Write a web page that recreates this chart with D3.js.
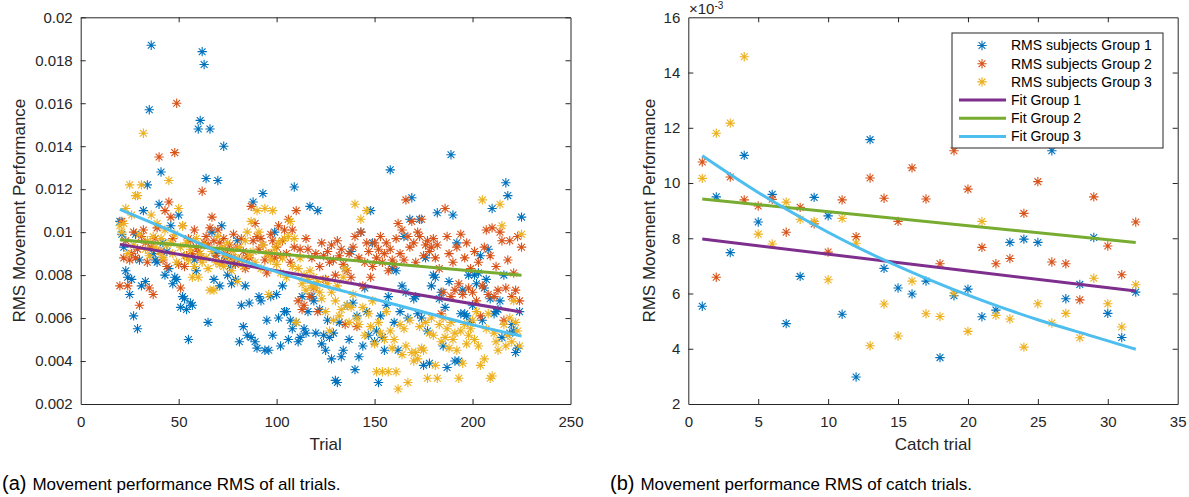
<!DOCTYPE html>
<html>
<head>
<meta charset="utf-8">
<script src="https://cdn.jsdelivr.net/npm/d3@7"></script>
<style>
  html, body { margin: 0; padding: 0; background: #fff; }
  svg { display: block; font-family: "Liberation Sans", Arial, sans-serif; }
</style>
</head>
<body>
<svg id="svg" width="1189" height="497"></svg>
<script>
// ---- data: all trials (panel a) ----
const trials = d3.range(20, 226);

const allGroup1 = [
  0.0105, 0.0099, 0.0093, 0.0082, 0.0079, 0.0071, 0.0078, 0.0061, 0.0099, 0.0055,
  0.0087, 0.0075, 0.0110, 0.0077, 0.0122, 0.0157, 0.0187, 0.0090, 0.0087, 0.0086,
  0.0113, 0.0128, 0.0095, 0.0080, 0.0091, 0.0083, 0.0103, 0.0076, 0.0079, 0.0078,
  0.0108, 0.0065, 0.0070, 0.0069, 0.0064, 0.0050, 0.0067, 0.0066, 0.0087, 0.0082,
  0.0148, 0.0152, 0.0184, 0.0178, 0.0125, 0.0058, 0.0148, 0.0100, 0.0078, 0.0090,
  0.0124, 0.0075, 0.0103, 0.0140, 0.0088, 0.0080, 0.0084, 0.0076, 0.0086, 0.0078,
  0.0096, 0.0049, 0.0066, 0.0056, 0.0075, 0.0052, 0.0067, 0.0051, 0.0114, 0.0049,
  0.0046, 0.0070, 0.0068, 0.0118, 0.0045, 0.0059, 0.0045, 0.0070, 0.0052, 0.0100,
  0.0071, 0.0060, 0.0047, 0.0075, 0.0063, 0.0063, 0.0050, 0.0059, 0.0055, 0.0121,
  0.0058, 0.0049, 0.0051, 0.0070, 0.0055, 0.0053, 0.0063, 0.0112, 0.0070, 0.0068,
  0.0053, 0.0110, 0.0064, 0.0048, 0.0052, 0.0045, 0.0059, 0.0051, 0.0041, 0.0053,
  0.0031, 0.0030, 0.0058, 0.0042, 0.0045, 0.0083, 0.0066, 0.0050, 0.0091, 0.0067,
  0.0036, 0.0061, 0.0042, 0.0100, 0.0047, 0.0074, 0.0063, 0.0052, 0.0110, 0.0095,
  0.0049, 0.0054, 0.0030, 0.0061, 0.0051, 0.0045, 0.0066, 0.0070, 0.0129, 0.0083,
  0.0058, 0.0082, 0.0045, 0.0063, 0.0075, 0.0098, 0.0072, 0.0060, 0.0106, 0.0116,
  0.0069, 0.0070, 0.0062, 0.0106, 0.0060, 0.0038, 0.0088, 0.0054, 0.0039, 0.0075,
  0.0080, 0.0079, 0.0109, 0.0069, 0.0072, 0.0047, 0.0065, 0.0037, 0.0077, 0.0136,
  0.0108, 0.0040, 0.0095, 0.0040, 0.0062, 0.0073, 0.0062, 0.0061, 0.0080, 0.0058,
  0.0066, 0.0080, 0.0076, 0.0081, 0.0089, 0.0059, 0.0074, 0.0078, 0.0092, 0.0069,
  0.0111, 0.0062, 0.0063, 0.0064, 0.0068, 0.0051, 0.0080, 0.0123, 0.0117, 0.0053,
  0.0057, 0.0054, 0.0044, 0.0046, 0.0063, 0.0107
];

const allGroup2 = [
  0.0075, 0.0105, 0.0088, 0.0096, 0.0075, 0.0087, 0.0090, 0.0100, 0.0088, 0.0092,
  0.0066, 0.0098, 0.0101, 0.0095, 0.0086, 0.0074, 0.0093, 0.0071, 0.0097, 0.0102,
  0.0135, 0.0091, 0.0087, 0.0110, 0.0084, 0.0114, 0.0107, 0.0097, 0.0137, 0.0160,
  0.0085, 0.0074, 0.0103, 0.0084, 0.0089, 0.0097, 0.0096, 0.0090, 0.0101, 0.0093,
  0.0091, 0.0088, 0.0119, 0.0095, 0.0098, 0.0094, 0.0102, 0.0107, 0.0096, 0.0089,
  0.0101, 0.0095, 0.0086, 0.0097, 0.0090, 0.0092, 0.0094, 0.0088, 0.0099, 0.0085,
  0.0093, 0.0087, 0.0097, 0.0091, 0.0083, 0.0089, 0.0088, 0.0112, 0.0096, 0.0104,
  0.0098, 0.0092, 0.0097, 0.0094, 0.0087, 0.0081, 0.0090, 0.0099, 0.0096, 0.0088,
  0.0093, 0.0103, 0.0089, 0.0096, 0.0101, 0.0090, 0.0106, 0.0086, 0.0101, 0.0093,
  0.0110, 0.0068, 0.0092, 0.0064, 0.0066, 0.0097, 0.0092, 0.0070, 0.0088, 0.0074,
  0.0090, 0.0063, 0.0084, 0.0095, 0.0089, 0.0078, 0.0091, 0.0086, 0.0094, 0.0087,
  0.0080, 0.0096, 0.0089, 0.0092, 0.0085, 0.0057, 0.0082, 0.0090, 0.0079, 0.0093,
  0.0098, 0.0056, 0.0088, 0.0100, 0.0075, 0.0086, 0.0095, 0.0091, 0.0079, 0.0084,
  0.0095, 0.0088, 0.0092, 0.0098, 0.0086, 0.0090, 0.0095, 0.0082, 0.0092, 0.0087,
  0.0085, 0.0097, 0.0104, 0.0090, 0.0101, 0.0087, 0.0115, 0.0098, 0.0093, 0.0105,
  0.0095, 0.0086, 0.0100, 0.0098, 0.0106, 0.0089, 0.0094, 0.0096, 0.0091, 0.0093,
  0.0097, 0.0088, 0.0094, 0.0083, 0.0062, 0.0072, 0.0111, 0.0098, 0.0090, 0.0070,
  0.0086, 0.0073, 0.0093, 0.0076, 0.0099, 0.0071, 0.0088, 0.0095, 0.0074, 0.0083,
  0.0072, 0.0091, 0.0068, 0.0086, 0.0061, 0.0075, 0.0093, 0.0101, 0.0071, 0.0089,
  0.0102, 0.0070, 0.0084, 0.0073, 0.0100, 0.0096, 0.0059, 0.0074, 0.0087, 0.0096,
  0.0070, 0.0081, 0.0073, 0.0098, 0.0068, 0.0093
];

const allGroup3 = [
  0.0103, 0.0100, 0.0104, 0.0111, 0.0090, 0.0122, 0.0108, 0.0094, 0.0117, 0.0117,
  0.0099, 0.0122, 0.0146, 0.0092, 0.0096, 0.0089, 0.0108, 0.0098, 0.0093, 0.0104,
  0.0091, 0.0097, 0.0088, 0.0101, 0.0094, 0.0124, 0.0095, 0.0090, 0.0099, 0.0086,
  0.0111, 0.0093, 0.0103, 0.0089, 0.0095, 0.0087, 0.0092, 0.0079, 0.0084, 0.0097,
  0.0079, 0.0090, 0.0086, 0.0094, 0.0088, 0.0083, 0.0073, 0.0091, 0.0073, 0.0086,
  0.0098, 0.0085, 0.0093, 0.0084, 0.0089, 0.0095, 0.0086, 0.0082, 0.0091, 0.0088,
  0.0077, 0.0093, 0.0087, 0.0084, 0.0096, 0.0100, 0.0089, 0.0105, 0.0091, 0.0086,
  0.0110, 0.0100, 0.0083, 0.0094, 0.0111, 0.0090, 0.0071, 0.0087, 0.0110, 0.0092,
  0.0085, 0.0095, 0.0081, 0.0088, 0.0097, 0.0079, 0.0098, 0.0105, 0.0084, 0.0097,
  0.0058, 0.0083, 0.0088, 0.0076, 0.0080, 0.0073, 0.0078, 0.0082, 0.0075, 0.0079,
  0.0074, 0.0077, 0.0072, 0.0069, 0.0078, 0.0063, 0.0076, 0.0054, 0.0072, 0.0059,
  0.0068, 0.0075, 0.0061, 0.0064, 0.0079, 0.0083, 0.0066, 0.0058, 0.0065, 0.0071,
  0.0113, 0.0060, 0.0057, 0.0106, 0.0065, 0.0052, 0.0110, 0.0062, 0.0056, 0.0068,
  0.0048, 0.0035, 0.0058, 0.0053, 0.0035, 0.0050, 0.0063, 0.0035, 0.0054, 0.0046,
  0.0050, 0.0035, 0.0027, 0.0057, 0.0043, 0.0055, 0.0047, 0.0030, 0.0059, 0.0044,
  0.0040, 0.0044, 0.0041, 0.0056, 0.0046, 0.0045, 0.0058, 0.0032, 0.0053, 0.0060,
  0.0052, 0.0038, 0.0032, 0.0057, 0.0049, 0.0060, 0.0051, 0.0055, 0.0046, 0.0058,
  0.0050, 0.0053, 0.0045, 0.0032, 0.0054, 0.0039, 0.0057, 0.0048, 0.0052, 0.0055,
  0.0059, 0.0050, 0.0063, 0.0047, 0.0038, 0.0115, 0.0041, 0.0055, 0.0062, 0.0032,
  0.0033, 0.0053, 0.0049, 0.0045, 0.0113, 0.0103, 0.0057, 0.0047, 0.0052, 0.0060,
  0.0049, 0.0068, 0.0058, 0.0054, 0.0047, 0.0099
];

// fits, [trial, rms]
const allFit1 = [[20, 0.00943], [225, 0.00628]];
const allFit2 = [[20, 0.00964], [225, 0.00799]];
const allFit3 = [[20, 0.01106], [45, 0.0101], [70, 0.0091], [95, 0.0083], [120, 0.0076],
                 [145, 0.0070], [170, 0.0064], [195, 0.0058], [225, 0.00516]];

// ---- data: catch trials (panel b) ----
const catchTrials = d3.range(1, 33);

const catchGroup1 = [
  0.00554, 0.00950, 0.00748, 0.01100, 0.00859, 0.00959, 0.00491, 0.00662,
  0.00948, 0.00881, 0.00525, 0.00298, 0.01157, 0.00691, 0.00620, 0.00598,
  0.00645, 0.00368, 0.00592, 0.00616, 0.00516, 0.00540, 0.00785, 0.00797,
  0.00785, 0.01117, 0.00581, 0.00633, 0.00803, 0.00528, 0.00441, 0.00605
];
const catchGroup2 = [
  0.01076, 0.00659, 0.01022, 0.00939, 0.00917, 0.00941, 0.00822, 0.00912,
  0.00852, 0.00750, 0.00939, 0.00806, 0.01018, 0.00945, 0.00861, 0.01055,
  0.00942, 0.00708, 0.01117, 0.00978, 0.00767, 0.00708, 0.00727, 0.00890,
  0.01005, 0.00714, 0.00708, 0.00577, 0.00950, 0.00772, 0.00668, 0.00859
];
const catchGroup3 = [
  0.01017, 0.01180, 0.01217, 0.01457, 0.00815, 0.00779, 0.00931, 0.00869,
  0.00861, 0.00650, 0.00872, 0.00782, 0.00411, 0.00562, 0.00446, 0.00645,
  0.00527, 0.00517, 0.00602, 0.00463, 0.00861, 0.00521, 0.00508, 0.00406,
  0.00563, 0.00493, 0.00528, 0.00440, 0.00655, 0.00563, 0.00479, 0.00632
];

const catchFit1 = [[1, 0.00797], [32, 0.00609]];
const catchFit2 = [[1, 0.00942], [32, 0.00785]];
const catchFit3 = [[1, 0.01099], [5, 0.00966], [9, 0.00849], [13, 0.00745], [17, 0.00655],
                   [21, 0.00575], [25, 0.00505], [29, 0.00444], [32, 0.00398]];

const legendLabels = ['RMS subjects Group 1', 'RMS subjects Group 2', 'RMS subjects Group 3',
                      'Fit Group 1', 'Fit Group 2', 'Fit Group 3'];

const dotColors = ['#0072BD', '#D95319', '#EDB120'];
const fitColors = ['#7E2F8E', '#77AC30', '#4DBEEE'];
const axisColor = '#262626';

const svg = d3.select('#svg');

// asterisk marker like matlab '*'
const star = (() => {
  const r = 4.7, d = 3.4;
  return `M${-r},0H${r}M0,${-r}V${r}M${-d},${-d}L${d},${d}M${-d},${d}L${d},${-d}`;
})();

function panel(opts) {
  const { left, right, top, bottom, xDomain, xTicks, yDomain, yTicks, yFormat,
          xs, groups, fits, xLabel, yLabelX } = opts;

  const x = d3.scaleLinear().domain(xDomain).range([left, right]);
  const y = d3.scaleLinear().domain(yDomain).range([bottom, top]);
  const g = svg.append('g');

  // axes with inward ticks, box on
  const tick = 5;
  const axB = g.append('g').attr('transform', `translate(0,${bottom})`)
    .call(d3.axisBottom(x).tickValues(xTicks).tickSizeInner(-tick).tickSizeOuter(0).tickPadding(12));
  const axT = g.append('g').attr('transform', `translate(0,${top})`)
    .call(d3.axisTop(x).tickValues(xTicks).tickSizeInner(-tick).tickSizeOuter(0).tickFormat(''));
  const axL = g.append('g').attr('transform', `translate(${left},0)`)
    .call(d3.axisLeft(y).tickValues(yTicks).tickSizeInner(-tick).tickSizeOuter(0).tickPadding(8).tickFormat(yFormat));
  const axR = g.append('g').attr('transform', `translate(${right},0)`)
    .call(d3.axisRight(y).tickValues(yTicks).tickSizeInner(-tick).tickSizeOuter(0).tickFormat(''));

  [axB, axT, axL, axR].forEach(a => {
    a.select('.domain').attr('stroke', axisColor);
    a.selectAll('.tick line').attr('stroke', axisColor);
    a.selectAll('.tick text').attr('fill', axisColor).attr('font-size', 15)
      .attr('font-family', '"Liberation Sans", Arial, sans-serif');
  });
  // hide ticks sitting on the box corners
  [axB, axT].forEach(a => a.selectAll('.tick line').filter(d => d === xDomain[0] || d === xDomain[1]).remove());
  [axL, axR].forEach(a => a.selectAll('.tick line').filter(d => d === yDomain[0] || d === yDomain[1]).remove());

  // points
  groups.forEach((vals, gi) => {
    g.append('g').selectAll('path')
      .data(vals.map((v, i) => [xs[i], v]))
      .join('path')
      .attr('d', star)
      .attr('transform', d => `translate(${x(d[0])},${y(d[1])})`)
      .attr('fill', 'none')
      .attr('stroke', dotColors[gi])
      .attr('stroke-width', 1.1);
  });

  // fits
  const line = d3.line().x(d => x(d[0])).y(d => y(d[1])).curve(d3.curveMonotoneX);
  fits.forEach((f, fi) => {
    g.append('path').attr('d', line(f))
      .attr('fill', 'none')
      .attr('stroke', fitColors[fi])
      .attr('stroke-width', 3);
  });

  // labels
  g.append('text')
    .attr('x', (left + right) / 2).attr('y', 450)
    .attr('text-anchor', 'middle').attr('font-size', 17).attr('fill', axisColor)
    .text(xLabel);
  g.append('text')
    .attr('transform', `translate(${yLabelX},${(top + bottom) / 2}) rotate(-90)`)
    .attr('text-anchor', 'middle').attr('font-size', 17).attr('fill', axisColor)
    .text('RMS Movement Performance');

  return { x, y, g };
}

const plotTop = 17.3, plotBottom = 404;

panel({
  left: 80.7, right: 570.5, top: plotTop, bottom: plotBottom,
  xDomain: [0, 250], xTicks: d3.range(0, 251, 50),
  yDomain: [0.002, 0.02], yTicks: d3.range(0.002, 0.0201, 0.002),
  yFormat: d => d3.format('.3~f')(d),
  xs: trials,
  groups: [allGroup1, allGroup2, allGroup3],
  fits: [allFit1, allFit2, allFit3],
  xLabel: 'Trial', yLabelX: 25
});

panel({
  left: 688.3, right: 1177.7, top: plotTop, bottom: plotBottom,
  xDomain: [0, 35], xTicks: d3.range(0, 36, 5),
  yDomain: [0.002, 0.016], yTicks: d3.range(0.002, 0.0161, 0.002),
  yFormat: d => d3.format('.0f')(d * 1000),
  xs: catchTrials,
  groups: [catchGroup1, catchGroup2, catchGroup3],
  fits: [catchFit1, catchFit2, catchFit3],
  xLabel: 'Catch trial', yLabelX: 655
});

// exponent label (kept just inside the top edge)
const ex = svg.append('text').attr('x', 689).attr('y', 14).attr('font-size', 15).attr('fill', axisColor);
ex.append('tspan').text('\u00d710');
ex.append('tspan').attr('font-size', 10).attr('dy', -5).text('-3');

// legend
const lg = svg.append('g');
lg.append('rect').attr('x', 952).attr('y', 33).attr('width', 211).attr('height', 115)
  .attr('fill', '#fff').attr('stroke', axisColor).attr('stroke-width', 1);
legendLabels.forEach((lab, i) => {
  const cy = 45.5 + i * 18.2;
  if (i < 3) {
    lg.append('path').attr('d', star).attr('transform', `translate(982,${cy})`)
      .attr('fill', 'none').attr('stroke', dotColors[i]).attr('stroke-width', 1.1);
  } else {
    lg.append('line').attr('x1', 959).attr('x2', 1006).attr('y1', cy).attr('y2', cy)
      .attr('stroke', fitColors[i - 3]).attr('stroke-width', 3);
  }
  lg.append('text').attr('x', 1011).attr('y', cy).attr('dy', '0.35em')
    .attr('font-size', 14).attr('fill', '#000').text(lab);
});

// captions
const cap = [['(a)', 'Movement performance RMS of all trials.', 2],
             ['(b)', 'Movement performance RMS of catch trials.', 610]];
cap.forEach(([tag, txt, cx]) => {
  const t = svg.append('text').attr('x', cx).attr('y', 490).attr('fill', '#000');
  t.append('tspan').attr('font-size', 20).text(tag);
  t.append('tspan').attr('font-size', 17).attr('dx', 6).text(txt);
});
</script>
</body>
</html>
